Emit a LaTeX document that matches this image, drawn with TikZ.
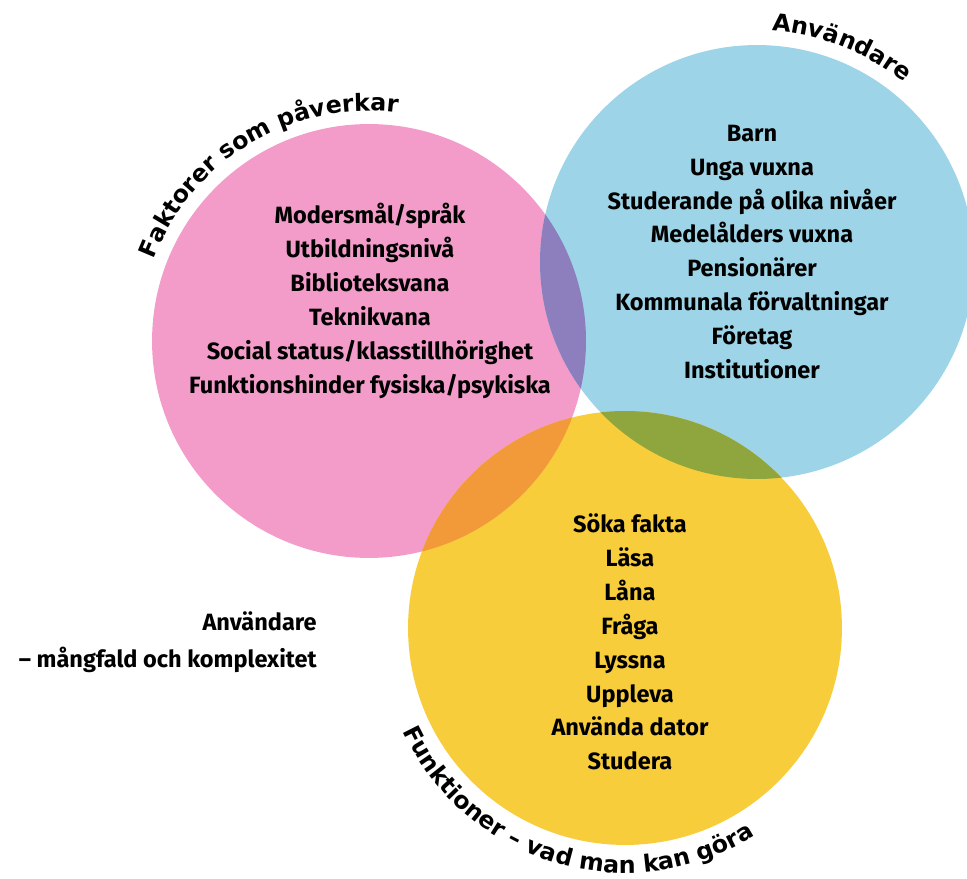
\documentclass[tikz,border=0pt]{standalone}
\usepackage{fontspec}
\setmainfont{Fira Sans}
\newfontfamily\arcfamily{DejaVu Sans}
\usetikzlibrary{decorations.text}
\definecolor{vpink}{HTML}{F39CC9}
\definecolor{vblue}{HTML}{9DD4E7}
\definecolor{vyellow}{HTML}{F8CD3C}
\definecolor{vpurple}{HTML}{8D7FBE}
\definecolor{vgreen}{HTML}{8FA63E}
\definecolor{vorange}{HTML}{F29A3A}
\newcommand\arcfont{\arcfamily\bfseries\fontsize{13.5}{16}\selectfont}

\begin{document}
\begin{tikzpicture}[x=0.02cm,y=0.02cm]
	\tikzset{ring/.style={circle,inner sep=0pt,outer sep=0pt,minimum size=8.68cm},
		listtext/.style={align=center,inner sep=0pt,font=\bfseries\fontsize{13.4}{19.3}\selectfont},
		arctext/.style={decorate,decoration={text along path,text align=center,text={|\arcfont|#1}}}
	}
    \useasboundingbox (0,0) rectangle (967,879);
    \node [ring,fill=vpink] (pink) at (369,538) {};
    \node [ring,fill=vblue] (blue) at (757,617) {};
    \node [ring,fill=vyellow] (yellow) at (625,251) {};
    % overlaps
    \begin{scope}
    	\clip (pink.center) circle (217);
    	\fill [vpurple] (blue.center) circle (217);
    	\fill [vorange] (yellow.center) circle (217);
    \end{scope}
    \begin{scope}
    	\clip (blue.center) circle (217);
    	\fill [vgreen] (yellow.center) circle (217);
    \end{scope}

    \node [listtext] (factors) at (370,578) {Modersmål/språk\\Utbildningsnivå\\Biblioteksvana\\Teknikvana\\Social status/klasstillhörighet\\Funktionshinder fysiska/psykiska};
    \node [listtext] (users) at (752,627) {Barn\\Unga vuxna\\Studerande på olika nivåer\\Medelålders vuxna\\Pensionärer\\Kommunala förvaltningar\\Företag\\Institutioner};
    \node [listtext] (functions) at (630,237) {Söka fakta\\Läsa\\Låna\\Fråga\\Lyssna\\Uppleva\\Använda dator\\Studera};
    \node [listtext,align=right,anchor=east,font=\bfseries\fontsize{13.4}{21}\selectfont] (note) at (317,237) {Användare\\– mångfald och komplexitet};

    \path [arctext={Faktorer som påverkar}] ([shift={(180:230)}]pink.center) arc (180:62:230);
    \path [arctext={Användare}] ([shift={(110:232)}]blue.center) arc (110:27:232);
    \path [arctext={Funktioner – vad man kan göra}] ([shift={(200:245)}]yellow.center) arc (200:307:245);
\end{tikzpicture}
\end{document}
